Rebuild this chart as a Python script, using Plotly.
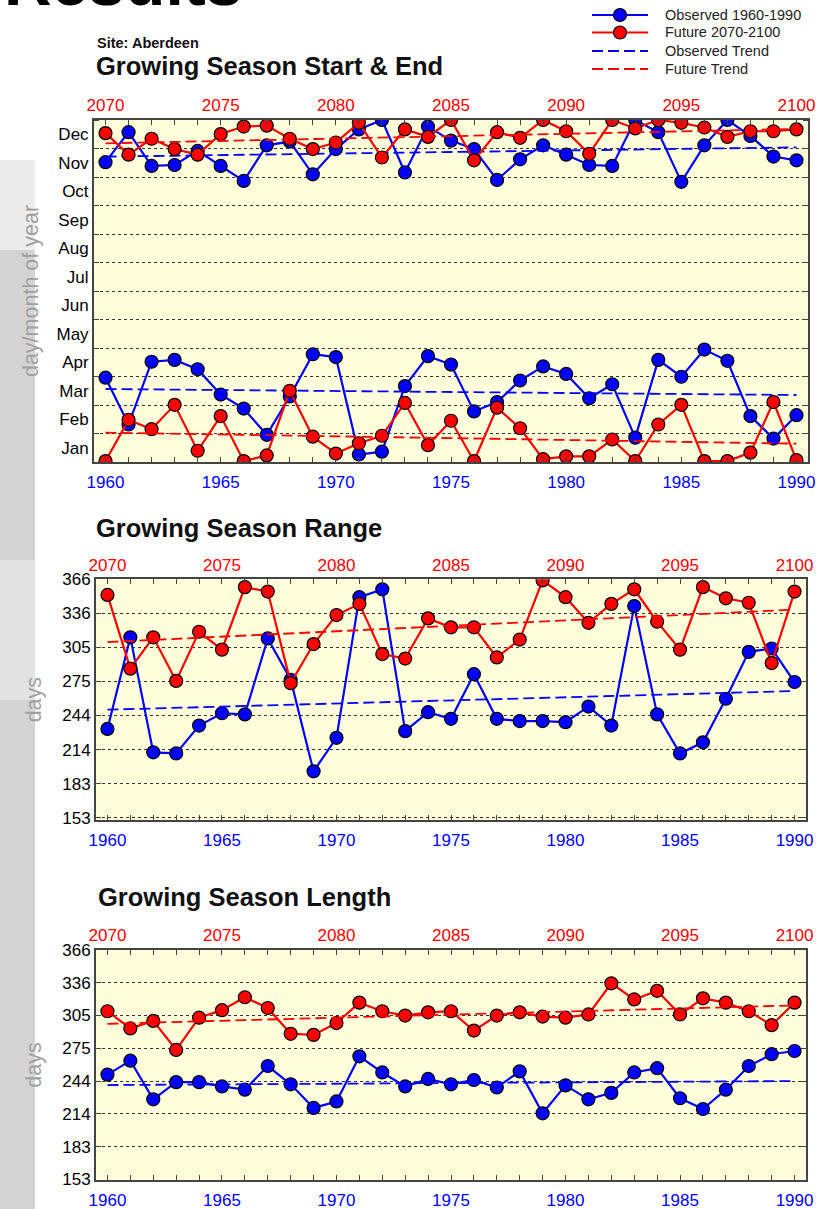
import plotly.graph_objects as go

# ---------------- data ----------------
years_obs = list(range(1960, 1991))
years_fut = list(range(2070, 2101))
month_labels = ["Jan", "Feb", "Mar", "Apr", "May", "Jun", "Jul", "Aug", "Sep", "Oct", "Nov", "Dec"]
days_ticktext = ["153", "183", "214", "244", "275", "305", "336", "366"]
days_tickvals = [152.5, 183, 213.5, 244, 274.5, 305, 335.5, 366]
legend_labels = ["Observed 1960-1990", "Future 2070-2100", "Observed Trend", "Future Trend"]

# Growing season start & end (day of year)
obs_end = [320, 352, 316, 317, 332, 316, 300, 338, 342, 307, 334, 355, 365, 309, 358, 343,
           334, 301, 323, 338, 328, 317, 316, 365, 352, 299, 338, 365, 348, 326, 322]
fut_end = [351, 328, 345, 334, 328, 350, 358, 359, 345, 334, 341, 362, 325, 355, 347, 365,
           322, 352, 346, 365, 353, 329, 365, 356, 365, 362, 357, 347, 353, 353, 355]
obs_start = [90, 40, 107, 109, 99, 72, 57, 29, 70, 115, 112, 8, 11, 81, 113, 104,
             54, 64, 87, 102, 94, 68, 83, 26, 109, 91, 120, 108, 49, 25, 50]
fut_start = [1, 45, 35, 61, 12, 49, 1, 7, 76, 27, 9, 20, 28, 63, 18, 44,
             1, 58, 36, 3, 6, 6, 24, 1, 40, 61, 1, 1, 10, 64, 2]

# Growing season range (days)
range_obs = [232, 314, 211, 210, 235, 246, 245, 313, 276, 194, 224, 350, 357, 230, 247, 241,
             281, 241, 239, 239, 238, 252, 235, 342, 245, 210, 220, 259, 301, 304, 274]
range_fut = [352, 286, 314, 275, 319, 303, 359, 355, 273, 308, 334, 344, 299, 295, 331, 323,
             323, 296, 312, 365, 350, 327, 344, 357, 328, 303, 359, 349, 345, 291, 355]

# Growing season length (days)
len_obs = [250, 263, 227, 243, 243, 239, 236, 258, 241, 219, 225, 267, 252, 239, 246, 241,
           245, 238, 253, 214, 240, 227, 233, 252, 256, 228, 218, 236, 258, 269, 272]
len_fut = [309, 293, 300, 273, 303, 310, 322, 312, 288, 287, 298, 317, 309, 305, 308, 309,
           291, 305, 308, 304, 303, 306, 335, 320, 328, 306, 321, 317, 309, 296, 317]

# Trend lines (values at first and last year)
trend_years_obs = [1960, 1990]
trend_years_fut = [2070, 2100]
trend1_obs_end = [325.9, 335.8]
trend1_fut_end = [340.1, 355.4]
trend1_obs_start = [77.9, 71.5]
trend1_fut_start = [31.3, 19.6]
trend2_obs = [249.2, 265.9]
trend2_fut = [309.8, 338.8]
trend3_obs = [240.3, 244.0]
trend3_fut = [297.3, 314.4]

# ---------------- style ----------------
FONT = "Liberation Sans, Arial, sans-serif"
BLUE = "#0000ff"
RED = "#ff0000"
PLOT_BG = "#ffffdc"
W, H = 828, 1209
TREND_DASH = "11px,5px"


def px_x(v):
    return v / W


def px_y(v):
    return 1 - v / H


fig = go.Figure()


def data_trace(x, y, color, name, xa, ya):
    return go.Scatter(
        x=x, y=y, mode="lines+markers", name=name, showlegend=False,
        line=dict(color=color, width=2.2),
        marker=dict(size=13, color=color, line=dict(color="black", width=1.2)),
        xaxis=xa, yaxis=ya, hoverinfo="x+y")


def trend_trace(x, y, color, name, xa, ya):
    return go.Scatter(
        x=x, y=y, mode="lines", name=name, showlegend=False,
        line=dict(color=color, width=1.8, dash=TREND_DASH),
        xaxis=xa, yaxis=ya, hoverinfo="x+y")


# Panel 1
fig.add_trace(data_trace(years_obs, obs_start, BLUE, legend_labels[0], "x", "y"))
fig.add_trace(data_trace(years_obs, obs_end, BLUE, legend_labels[0], "x", "y"))
fig.add_trace(data_trace(years_fut, fut_start, RED, legend_labels[1], "x4", "y"))
fig.add_trace(data_trace(years_fut, fut_end, RED, legend_labels[1], "x4", "y"))
fig.add_trace(trend_trace(trend_years_obs, trend1_obs_end, BLUE, legend_labels[2], "x", "y"))
fig.add_trace(trend_trace(trend_years_obs, trend1_obs_start, BLUE, legend_labels[2], "x", "y"))
fig.add_trace(trend_trace(trend_years_fut, trend1_fut_end, RED, legend_labels[3], "x4", "y"))
fig.add_trace(trend_trace(trend_years_fut, trend1_fut_start, RED, legend_labels[3], "x4", "y"))

# Panel 2
fig.add_trace(data_trace(years_obs, range_obs, BLUE, legend_labels[0], "x2", "y2"))
fig.add_trace(data_trace(years_fut, range_fut, RED, legend_labels[1], "x5", "y2"))
fig.add_trace(trend_trace(trend_years_obs, trend2_obs, BLUE, legend_labels[2], "x2", "y2"))
fig.add_trace(trend_trace(trend_years_fut, trend2_fut, RED, legend_labels[3], "x5", "y2"))

# Panel 3
fig.add_trace(data_trace(years_obs, len_obs, BLUE, legend_labels[0], "x3", "y3"))
fig.add_trace(data_trace(years_fut, len_fut, RED, legend_labels[1], "x6", "y3"))
fig.add_trace(trend_trace(trend_years_obs, trend3_obs, BLUE, legend_labels[2], "x3", "y3"))
fig.add_trace(trend_trace(trend_years_fut, trend3_fut, RED, legend_labels[3], "x6", "y3"))

panels = [
    dict(x=(94, 808), y=(120, 462)),
    dict(x=(96, 806), y=(579.3, 820)),
    dict(x=(96, 806), y=(950, 1180)),
]

layout = dict(
    width=W, height=H,
    margin=dict(l=0, r=0, t=0, b=0, autoexpand=False),
    paper_bgcolor="white",
    plot_bgcolor=PLOT_BG,
    font=dict(family=FONT, color="black"),
    showlegend=False,
)

axis_line = dict(showline=True, linecolor="#444", linewidth=2, zeroline=False, automargin=False)

for i, p in enumerate(panels, start=1):
    sfx = "" if i == 1 else str(i)
    xdom = [px_x(p["x"][0]), px_x(p["x"][1])]
    ydom = [px_y(p["y"][1]), px_y(p["y"][0])]
    layout["xaxis" + sfx] = dict(
        domain=xdom, anchor="y" + sfx, range=[1959.5, 1990.5],
        tickmode="array", tickvals=list(range(1960, 1991, 5)),
        tickfont=dict(color=BLUE, size=17, family=FONT), ticklabelstandoff=4,
        ticks="inside", ticklen=5, tickcolor="#444", showgrid=False,
        minor=dict(dtick=1, tick0=1960, ticks="inside", ticklen=5, tickcolor="#444", showgrid=False),
        mirror=True, **axis_line)
    layout["xaxis" + str(i + 3)] = dict(
        overlaying="x" + sfx, anchor="y" + sfx, side="top", range=[2069.5, 2100.5],
        tickmode="array", tickvals=list(range(2070, 2101, 5)),
        tickfont=dict(color=RED, size=17, family=FONT),
        ticks="inside", ticklen=5, tickcolor="#444", showgrid=False,
        minor=dict(dtick=1, tick0=2070, ticks="inside", ticklen=5, tickcolor="#444", showgrid=False),
        **axis_line)
    if i == 1:
        mlen = 365 / 12
        layout["yaxis"] = dict(
            domain=ydom, anchor="x", range=[0, 365],
            tickmode="array", tickvals=[(k + 0.5) * mlen for k in range(12)], ticktext=month_labels,
            tickfont=dict(size=17, family=FONT, color="black"),
            ticks="", showgrid=False,
            minor=dict(tick0=0, dtick=mlen, ticks="inside", ticklen=5, tickcolor="#444",
                       showgrid=True, gridcolor="#333", griddash="dot", gridwidth=1),
            title=dict(text="day/month of year", font=dict(size=21.5, color="#a0a0a0", family=FONT), standoff=12),
            mirror="ticks", **axis_line)
    else:
        yr = [150.4, 366] if i == 2 else [151.9, 366]
        layout["yaxis" + sfx] = dict(
            domain=ydom, anchor="x" + sfx, range=yr,
            tickmode="array", tickvals=days_tickvals, ticktext=days_ticktext,
            tickfont=dict(size=17, family=FONT, color="black"),
            ticks="inside", ticklen=5, tickcolor="#444",
            showgrid=True, gridcolor="#333", griddash="dot", gridwidth=1,
            title=dict(text="days", font=dict(size=21.5, color="#a0a0a0", family=FONT), standoff=15),
            mirror="ticks", **axis_line)

annotations = [
    dict(text="<b>Results</b>", x=px_x(2), y=px_y(21), xanchor="left", yanchor="bottom",
         font=dict(size=66, family=FONT, color="black"), showarrow=False),
    dict(text="<b>Site: Aberdeen</b>", x=px_x(95), y=px_y(43), xanchor="left", yanchor="middle",
         font=dict(size=14.5, family=FONT, color="#111"), showarrow=False),
    dict(text="<b>Growing Season Start &amp; End</b>", x=px_x(94), y=px_y(66), xanchor="left", yanchor="middle",
         font=dict(size=25.5, family=FONT, color="#111"), showarrow=False),
    dict(text="<b>Growing Season Range</b>", x=px_x(94), y=px_y(528), xanchor="left", yanchor="middle",
         font=dict(size=25.5, family=FONT, color="#111"), showarrow=False),
    dict(text="<b>Growing Season Length</b>", x=px_x(96), y=px_y(897), xanchor="left", yanchor="middle",
         font=dict(size=25.5, family=FONT, color="#111"), showarrow=False),
]

# grey photographic strip on the left edge (approximation)
shapes = [
    dict(type="rect", x0=0, x1=px_x(35), y0=0, y1=px_y(250),
         fillcolor="#d4d4d4", line=dict(width=0), layer="below"),
    dict(type="rect", x0=0, x1=px_x(35), y0=px_y(250), y1=px_y(160),
         fillcolor="#ececec", line=dict(width=0), layer="below"),
    dict(type="rect", x0=0, x1=px_x(35), y0=px_y(700), y1=px_y(560),
         fillcolor="#e2e2e2", line=dict(width=0), layer="below"),
]

# legend (drawn manually to match the reference's compact layout)
legend_rows_y = [15, 32.5, 51, 69]
legend_styles = [(BLUE, True, "solid"), (RED, True, "solid"), (BLUE, False, TREND_DASH), (RED, False, TREND_DASH)]
for label, ry, (col, has_marker, dash) in zip(legend_labels, legend_rows_y, legend_styles):
    shapes.append(dict(type="line", x0=px_x(592), x1=px_x(648), y0=px_y(ry), y1=px_y(ry),
                       line=dict(color=col, width=2.2 if has_marker else 1.8, dash=dash)))
    if has_marker:
        shapes.append(dict(type="circle", x0=px_x(613.5), x1=px_x(626.5), y0=px_y(ry + 6.5), y1=px_y(ry - 6.5),
                           fillcolor=col, line=dict(color="black", width=1.2)))
    annotations.append(dict(text=label, x=px_x(663), y=px_y(ry), xanchor="left", yanchor="middle",
                            font=dict(size=14.5, family=FONT, color="#222"), showarrow=False))

for a in annotations:
    a["xref"] = "paper"
    a["yref"] = "paper"
for s in shapes:
    s["xref"] = "paper"
    s["yref"] = "paper"
layout["annotations"] = annotations
layout["shapes"] = shapes

fig.update_layout(**layout)
fig.write_html("out.html", config={"displayModeBar": False},
               post_script="document.body.style.margin='0';")
